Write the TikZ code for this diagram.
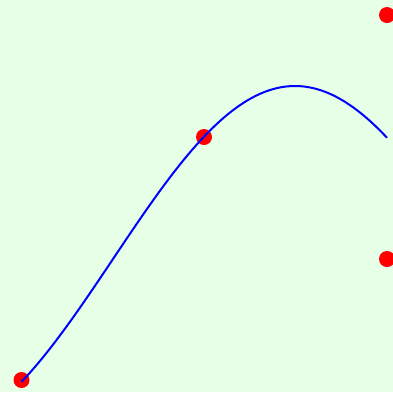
\documentclass[tikz,border=0pt]{standalone}
\definecolor{bgcol}{RGB}{230,255,230}
\tikzset{
  dot/.style={circle,fill=red,inner sep=0pt,minimum size=16pt},
  curve/.style={blue,line width=2pt}
}
\begin{document}
\begin{tikzpicture}[x=1pt,y=-1pt]
\useasboundingbox (0,0) rectangle (393,392);
\clip (0,0) rectangle (393,392);
\fill[bgcol] (0,0) rectangle (393,392);
\node[dot] (a) at (21.5,380) {};
\node[dot] (b) at (204,137) {};
\node[dot] (c) at (387,15) {};
\node[dot] (d) at (387,259) {};
\draw[curve] plot[domain=21.5:387,samples=80,smooth] (\x,{86+173*(1-cos((\x-295)*45/91))});
\end{tikzpicture}
\end{document}
